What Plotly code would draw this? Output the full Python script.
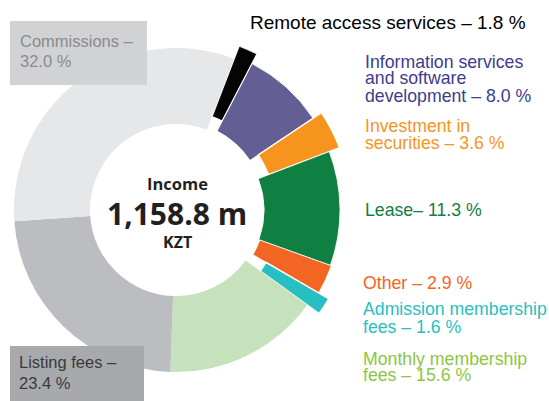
import numpy as np
import plotly.graph_objects as go

# ---------------- data ----------------
labels = [
    "Remote access services",
    "Information services and software development",
    "Investment in securities",
    "Lease",
    "Other",
    "Admission membership fees",
    "Monthly membership fees",
    "Listing fees",
    "Commissions",
]
shares = [1.8, 8.0, 3.6, 11.3, 2.9, 1.6, 15.6, 23.4, 32.0]
center_title = "Income"
center_value = "1,158.8 m"
center_unit = "KZT"

# ---------------- styles ----------------
colors = ["#050505", "#635f94", "#f7941d", "#0f8041", "#f26522",
          "#27bfc1", "#c6e2bd", "#bcbdc0", "#e6e7e8"]
pull_px = [14, 3, 13, 2, 3, 18, 0, 0, 0]
edge_w = [1.5, 1, 1.5, 0.8, 0.8, 1.5, 0, 0, 0]
start_angle = 21.0
inner_r = 86
ring_w = 76

W, H = 549, 401
cx, cy = 176, 210          # donut centre in px (from top-left)
R = 176                     # radial range = px

deg_per = 360.0 / sum(shares)
sh = np.array(shares)
cum = np.concatenate([[0], np.cumsum(sh)[:-1]])
theta = start_angle + (cum + sh / 2) * deg_per
widths = sh * deg_per
bases = [inner_r + p for p in pull_px]

fig = go.Figure()
fig.add_trace(go.Barpolar(
    theta=theta, width=widths, r=[ring_w] * len(sh), base=bases,
    marker=dict(color=colors, line=dict(color="white", width=edge_w)),
    text=labels, hoverinfo="text", showlegend=False,
))
# helper trace to disable clipping of bars that stick out of the radial range
fig.add_trace(go.Scatterpolar(r=[0], theta=[0], mode="markers",
                              marker=dict(size=1, opacity=0), cliponaxis=False,
                              hoverinfo="skip", showlegend=False))

fig.update_layout(
    width=W, height=H, margin=dict(l=0, r=0, t=0, b=0),
    paper_bgcolor="white", plot_bgcolor="white", showlegend=False,
    polar=dict(
        domain=dict(x=[(cx - R) / W, (cx + R) / W],
                    y=[(H - cy - R) / H, (H - cy + R) / H]),
        bgcolor="rgba(0,0,0,0)",
        radialaxis=dict(range=[0, R], visible=False, showgrid=False),
        angularaxis=dict(visible=False, showgrid=False, direction="clockwise",
                         rotation=90, thetaunit="degrees"),
        bargap=0,
    ),
)

def px(x):
    return x / W

def py(y):
    return 1 - y / H

LAB_FONT = "Liberation Sans, Arial, sans-serif"

def add_text(txt, x, y, size, color, anchor="left", family=LAB_FONT):
    fig.add_annotation(x=px(x), y=py(y), xref="paper", yref="paper",
                       text=txt, showarrow=False, xanchor=anchor, yanchor="middle",
                       font=dict(family=family, size=size, color=color),
                       borderpad=0)

pct = [f"{v:.1f} %" for v in shares]

# right-hand labels
add_text(f"Remote access services – {pct[0]}", 249, 23, 19, "#000000")
info_c = "#3e3c8c"
add_text("Information services", 364, 62, 17.7, info_c)
add_text("and software", 364, 78.5, 17.7, info_c)
add_text(f"development – {pct[1]}", 364, 95.5, 17.7, info_c)
inv_c = "#f7941d"
add_text("Investment in", 364, 126, 17.7, inv_c)
add_text(f"securities – {pct[2]}", 364, 143, 17.7, inv_c)
add_text(f"Lease– {pct[3]}", 364, 210, 17.7, "#0f7f41")
add_text(f"Other – {pct[4]}", 362, 283, 17.7, "#f26522")
adm_c = "#27bfc1"
add_text("Admission membership", 362, 309, 17.7, adm_c)
add_text(f"fees – {pct[5]}", 362, 326.5, 17.7, adm_c)
mon_c = "#8dc63f"
add_text("Monthly membership", 362, 359, 17.7, mon_c)
add_text(f"fees – {pct[6]}", 362, 375, 17.7, mon_c)

# boxed labels on the left
fig.add_shape(type="rect", xref="paper", yref="paper",
              x0=px(10), x1=px(147), y0=py(21), y1=py(85),
              fillcolor="#d1d2d4", line=dict(width=0), layer="above")
fig.add_shape(type="rect", xref="paper", yref="paper",
              x0=px(10), x1=px(144), y0=py(346), y1=py(401),
              fillcolor="#a7a9ac", line=dict(width=0), layer="above")
add_text("Commissions –", 19, 41.5, 16.5, "#8a8b8e")
add_text(pct[8], 19, 61.5, 16.5, "#8a8b8e")
add_text("Listing fees –", 18, 362, 16.5, "#3a3a3c")
add_text(pct[7], 18, 383, 16.5, "#3a3a3c")

# centre text
CF = "Open Sans, Noto Sans, sans-serif"
fig.add_annotation(x=px(177), y=py(183), xref="paper", yref="paper", showarrow=False,
                   text=f"<b>{center_title}</b>", xanchor="center", yanchor="middle",
                   font=dict(family=CF, size=16.5, color="#231f20"))
fig.add_annotation(x=px(177), y=py(213), xref="paper", yref="paper", showarrow=False,
                   text=f"<b>{center_value}</b>", xanchor="center", yanchor="middle",
                   font=dict(family=CF, size=30, color="#231f20"))
fig.add_annotation(x=px(177), y=py(242), xref="paper", yref="paper", showarrow=False,
                   text=f"<b>{center_unit}</b>", xanchor="center", yanchor="middle",
                   font=dict(family=CF, size=16, color="#231f20"))

fig.write_html("out.html",
               config={"displayModeBar": False},
               post_script="document.body.style.margin='0';document.body.style.padding='0';")
